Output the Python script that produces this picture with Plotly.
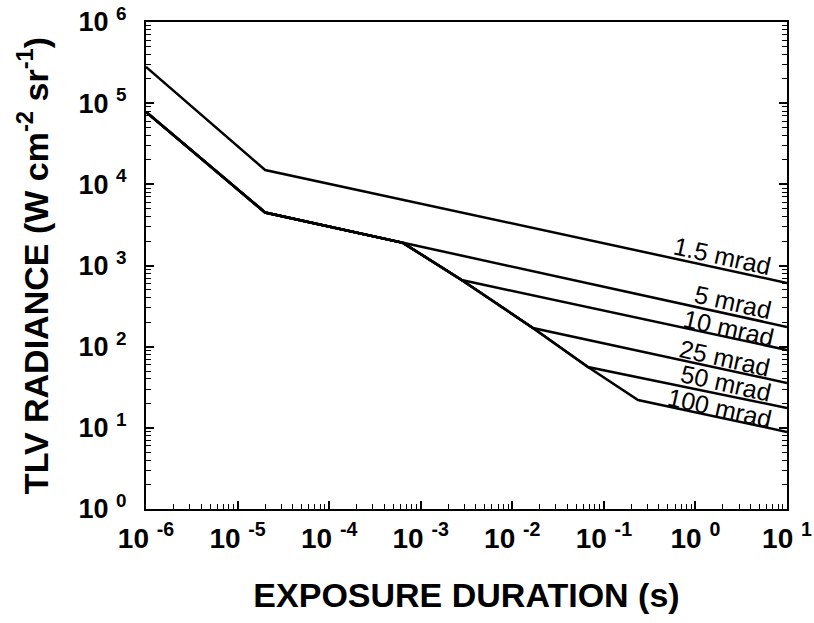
import numpy as np
import plotly.graph_objects as go

# ---- data ----
series_names = ["1.5 mrad", "5 mrad", "10 mrad", "25 mrad", "50 mrad", "100 mrad"]

t_1p5 = [1e-6, 2e-5, 10]
L_1p5 = [2.8e5, 1.5e4, 610]

t_5 = [1e-6, 2e-5, 10]
L_5 = [7.8e4, 4.5e3, 175]

t_10 = [1e-6, 2e-5, 6.4e-4, 2.8e-3, 10]
L_10 = [7.8e4, 4.5e3, 1900, 662, 91]

t_25 = [1e-6, 2e-5, 6.4e-4, 2.8e-3, 0.0168, 10]
L_25 = [7.8e4, 4.5e3, 1900, 662, 170, 35.7]

t_50 = [1e-6, 2e-5, 6.4e-4, 2.8e-3, 0.0168, 0.0671, 10]
L_50 = [7.8e4, 4.5e3, 1900, 662, 170, 56.2, 17.6]

t_100 = [1e-6, 2e-5, 6.4e-4, 2.8e-3, 0.0168, 0.0671, 0.236, 10]
L_100 = [7.8e4, 4.5e3, 1900, 662, 170, 56.2, 22.0, 8.9]

x_tick_exp = [-6, -5, -4, -3, -2, -1, 0, 1]
y_tick_exp = [0, 1, 2, 3, 4, 5, 6]
minor_digits = [2, 3, 4, 5, 6, 7, 8, 9]

# label placement (layout): x-position (s) of label centre and pixel shift above line
label_t = [2.0, 2.57, 2.33, 2.1, 2.16, 1.85]
label_shift = [13, 13, 10, 12, 12, 10]

all_t = [t_1p5, t_5, t_10, t_25, t_50, t_100]
all_L = [L_1p5, L_5, L_10, L_25, L_50, L_100]

FONT = "Liberation Sans, Arial, sans-serif"

fig = go.Figure()
for name, t, L in zip(series_names, all_t, all_L):
    fig.add_trace(go.Scatter(x=t, y=L, mode="lines", name=name,
                             line=dict(color="black", width=2.5),
                             showlegend=False, hoverinfo="skip"))

# angle of the t^-0.25 segments in pixel space
px_per_dec_x = (787 - 146) / 7.0
px_per_dec_y = (509 - 22) / 6.0
angle = np.degrees(np.arctan(0.25 * px_per_dec_y / px_per_dec_x))

for name, t, L, lt, sh in zip(series_names, all_t, all_L, label_t, label_shift):
    ly = 10 ** np.interp(np.log10(lt), np.log10(t), np.log10(L))
    fig.add_annotation(x=np.log10(lt), y=np.log10(ly), xref="x", yref="y",
                       text=name, showarrow=False, textangle=angle,
                       yshift=sh, font=dict(family=FONT, size=25, color="black"))

x_ticktext = ["<b>10 <sup>%d</sup></b>" % e for e in x_tick_exp]
y_ticktext = ["<b>10 <sup>%d</sup></b>" % e for e in y_tick_exp]
x_minor = [d * 10.0 ** e for e in x_tick_exp[:-1] for d in minor_digits]
y_minor = [d * 10.0 ** e for e in y_tick_exp[:-1] for d in minor_digits]

fig.update_xaxes(type="log", range=[-6, 1], automargin=False,
                 tickvals=[10.0 ** e for e in x_tick_exp], ticktext=x_ticktext,
                 ticks="inside", ticklen=8, tickwidth=1.5, tickcolor="black",
                 showline=True, linecolor="black", linewidth=2, mirror=True,
                 showgrid=False, zeroline=False,
                 tickfont=dict(family=FONT, size=28, color="black"),
                 ticklabelstandoff=3,
                 minor=dict(ticks="inside", ticklen=5, tickwidth=1.3, tickcolor="black",
                            tickvals=x_minor, showgrid=False),
                 title=dict(text="<b>EXPOSURE DURATION (s)</b>",
                            font=dict(family=FONT, size=34, color="black"),
                            standoff=31))

fig.update_yaxes(type="log", range=[0, 6], automargin=False,
                 tickvals=[10.0 ** e for e in y_tick_exp], ticktext=y_ticktext,
                 ticks="inside", ticklen=8, tickwidth=1.5, tickcolor="black",
                 showline=True, linecolor="black", linewidth=2, mirror="ticks",
                 showgrid=False, zeroline=False,
                 tickfont=dict(family=FONT, size=27, color="black"),
                 ticklabelstandoff=12,
                 minor=dict(ticks="inside", ticklen=5, tickwidth=1.3, tickcolor="black",
                            tickvals=y_minor, showgrid=False),
                 title=dict(text="<b>TLV RADIANCE (W cm<sup>-2</sup> sr<sup>-1</sup>)</b>",
                            font=dict(family=FONT, size=34, color="black"),
                            standoff=20))

fig.update_layout(width=814, height=623,
                  margin=dict(l=146, r=27, t=22, b=114),
                  paper_bgcolor="white", plot_bgcolor="white")

fig.write_html("out.html", config={"displayModeBar": False},
               post_script="document.body.style.margin='0';document.body.style.overflow='hidden';")
